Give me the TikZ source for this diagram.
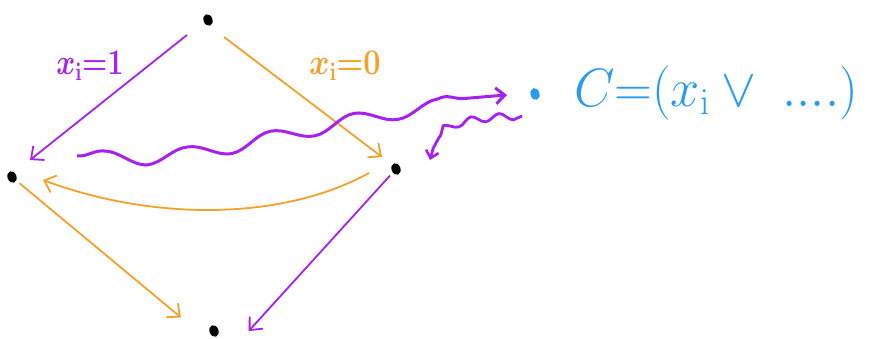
\documentclass[tikz,border=0pt]{standalone}
\usepackage{fix-cm}
\usepackage{graphicx}
\usetikzlibrary{arrows.meta,decorations.pathmorphing,shapes.geometric}
\definecolor{hpurple}{RGB}{168,32,240}
\definecolor{horange}{RGB}{245,160,40}
\definecolor{hblue}{RGB}{40,155,240}
\newcommand\mylblfont{\fontsize{36}{40}\selectfont\boldmath}
\newcommand\mybigfont{\fontsize{54}{60}\selectfont}
\tikzset{
  dot/.style={fill=black,ellipse,inner sep=0pt,minimum width=9pt,minimum height=12pt,rotate=20},
  bluedot/.style={fill=hblue,ellipse,inner sep=0pt,minimum width=9pt,minimum height=12pt,rotate=15},
  edge/.style={line width=1.8pt,-{Straight Barb[length=10pt,width=18pt,line width=1.8pt]},shorten >=4pt,shorten <=4pt},
  pedge/.style={edge,hpurple},
  oedge/.style={edge,horange},
  wavy/.style={hpurple,line width=3pt,decorate,decoration={snake,amplitude=7pt,segment length=85pt,post length=10pt},
    -{Straight Barb[length=9pt,width=16pt,line width=3pt]}},
}
\begin{document}
\begin{tikzpicture}[x=1pt,y=-1pt]
\useasboundingbox (0,0) rectangle (870,339);
\node[dot] (top) at (208,20) {};
\node[dot] (left) at (12,177) {};
\node[dot] (right) at (396,169) {};
\node[dot] (bot) at (214,331) {};
\node[bluedot] (c) at (535,94) {};
\coordinate (lt) at (30,160);
\coordinate (rt) at (382,157);
\coordinate (ts) at (187,35);
\coordinate (ts2) at (224,37);
\draw[pedge,shorten >=0pt,shorten <=0pt] (ts) -- (lt);
\draw[oedge,shorten >=0pt,shorten <=0pt] (ts2) -- (rt);
\coordinate (rs) at (369,173);
\coordinate (le) at (43,180);
\draw[oedge,shorten >=0pt,shorten <=0pt] (rs) .. controls (280,222) and (150,220) .. (le);
\draw[oedge] (left) -- (184,320);
\draw[pedge] (right) -- (246,334);
\coordinate (ws) at (77,156);
\coordinate (we) at (507,95);
\draw[wavy] (ws) .. controls (200,165) and (300,110) .. (we);
\coordinate (s1) at (522,116);
\coordinate (s2) at (430,160);
\draw[hpurple,line width=2.8pt,decorate,decoration={snake,amplitude=3.5pt,segment length=28pt,post length=12pt},
    -{Straight Barb[length=7pt,width=13pt,line width=2.6pt]}] (s1) .. controls (470,118) and (435,125) .. (s2);
\node[text=hpurple,font=\mylblfont,inner sep=0pt] (l1) at (90,66) {\scalebox{0.8}[1]{$x_{\mathrm{i}}{=}1$}};
\node[text=horange,font=\mylblfont,inner sep=0pt] (l0) at (345,66) {\scalebox{0.85}[1]{$x_{\mathrm{i}}{=}0$}};
\node[font=\mybigfont,text=hblue,anchor=west,inner sep=0pt] (ct) at (574,93) {\scalebox{0.97}[1]{$C{=}(x_{\mathrm{i}}\vee\;....)$}};
\end{tikzpicture}
\end{document}
